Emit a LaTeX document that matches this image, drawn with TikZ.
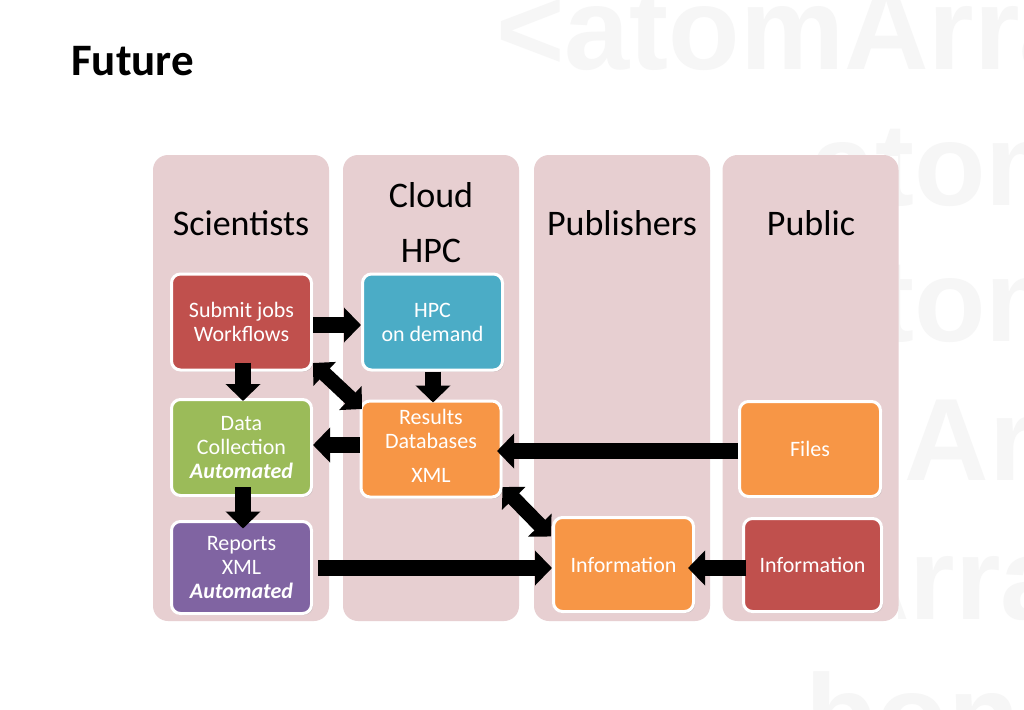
\documentclass[tikz,border=0pt]{standalone}
\usepackage{fontspec}
\setmainfont{Carlito}
\newfontfamily\wmfont{Liberation Sans}
\usetikzlibrary{arrows.meta,shadows}
\definecolor{colbg}{RGB}{231,207,209}
\definecolor{wmgray}{RGB}{246,246,246}
\definecolor{bred}{RGB}{192,80,77}
\definecolor{bblue}{RGB}{75,172,198}
\definecolor{bgreen}{RGB}{155,187,89}
\definecolor{borange}{RGB}{247,150,70}
\definecolor{bpurple}{RGB}{128,100,162}
\tikzset{
  wm/.style={anchor=base west, inner sep=0pt, text=wmgray, font=\wmfont\bfseries\fontsize{117}{117}\selectfont},
  colbox/.style={fill=colbg, rounded corners=15pt, inner sep=0pt, outer sep=0pt, minimum width=176pt, minimum height=466pt},
  header/.style={anchor=base, inner sep=0pt, font=\fontsize{36}{36}\selectfont},
  box/.style={draw=white, line width=3pt, rounded corners=9pt, minimum width=140pt, minimum height=96pt,
    text=white, align=center, inner sep=0pt, font=\fontsize{22}{24}\selectfont,
    drop shadow={opacity=0.3, shadow xshift=1.5pt, shadow yshift=-1.5pt}},
  blk/.style={line width=16pt, -{Triangle[length=17pt,width=34pt]}},
  dblk/.style={line width=15pt, {Triangle[length=16pt,width=32pt]}-{Triangle[length=16pt,width=32pt]}}
}
\begin{document}
\begin{tikzpicture}[x=1pt,y=-1pt]
\useasboundingbox (0,0) rectangle (1024,709);
\fill[white] (0,0) rectangle (1024,709);
% watermark (visible only outside the columns area)
\begin{scope}
\clip (0,0) rectangle (1024,155) (898,0) rectangle (1024,709) (0,622) rectangle (1024,709);
\node[wm] (wm1) at (496,69) {<atomArray>};
\node[wm] (wm2) at (810,205) {atom};
\node[wm] (wm3) at (810,341) {atom};
\node[wm] (wm4) at (524,480) {</atomArray>};
\node[wm] (wm5) at (471,619) {<bondArray>};
\node[wm] (wm6) at (805,756) {bond};
\end{scope}
% title
\node[anchor=base west, inner sep=0pt, font=\bfseries\fontsize{45}{45}\selectfont] (title) at (71,75) {Future};
% columns
\node[colbox] (col1) at (241,388) {};
\node[colbox] (col2) at (431,388) {};
\node[colbox] (col3) at (622,388) {};
\node[colbox] (col4) at (810.5,388) {};
% headers
\node[header] (hsci) at (241,235) {Scientists};
\node[header] (hcloud) at (431,207) {Cloud};
\node[header] (hhpc) at (431,262) {HPC};
\node[header] (hpub) at (622,235) {Publishers};
\node[header] (hpublic) at (811,235) {Public};
% boxes
\node[box, fill=bred] (submit) at (241.5,322) {Submit jobs\\Workflows};
\node[box, fill=bblue] (hpc) at (432.5,322) {HPC\\on demand};
\node[box, fill=bgreen] (data) at (241.5,447.5) {Data\\Collection\\\textbf{\textit{Automated}}};
\node[box, fill=borange] (results) at (431,449) {Results\\Databases\\[10pt]XML\rule[-6pt]{0pt}{6pt}};
\node[box, fill=bpurple, minimum height=92pt] (reports) at (241.5,567.5) {Reports\\XML\\\textbf{\textit{Automated}}};
\node[box, fill=borange, minimum width=141pt, minimum height=95pt] (files) at (810,449) {Files};
\node[box, fill=borange, minimum width=140pt, minimum height=94pt] (infopub) at (623.5,564.5) {Information};
\node[box, fill=bred, minimum width=138pt, minimum height=93pt] (infopublic) at (812.5,565) {Information};
% arrows
\draw[blk] ([yshift=-3pt]submit.east) -- ([yshift=-3pt]hpc.west);
\draw[blk] ([xshift=1.5pt,yshift=9pt]submit.south) -- ([xshift=1.5pt,yshift=-3pt]data.north);
\draw[blk] ([xshift=0.5pt]hpc.south) -- ([xshift=2pt,yshift=-3pt]results.north);
\draw[dblk] ([yshift=8.5pt]submit.south east) -- ([xshift=2.5pt,yshift=-9.5pt]results.north west);
\draw[blk] ([yshift=4pt]results.west) -- ([yshift=2.5pt]data.east);
\draw[blk] ([xshift=1.5pt,yshift=10pt]data.south) -- ([xshift=1.5pt,yshift=-8.5pt]reports.north);
\draw[blk] ([yshift=-2pt]files.west) -- ([xshift=-5.5pt,yshift=-2pt]results.east);
\draw[blk] ([xshift=5pt,yshift=-0.5pt]reports.east) -- ([yshift=-3.5pt]infopub.west);
\draw[blk] ([xshift=4pt,yshift=-3pt]infopublic.west) -- ([xshift=-7pt,yshift=-3.5pt]infopub.east);
\draw[dblk] ([yshift=11.5pt]results.south east) -- ([xshift=-1pt,yshift=-20.5pt]infopub.north west);
\end{tikzpicture}
\end{document}
